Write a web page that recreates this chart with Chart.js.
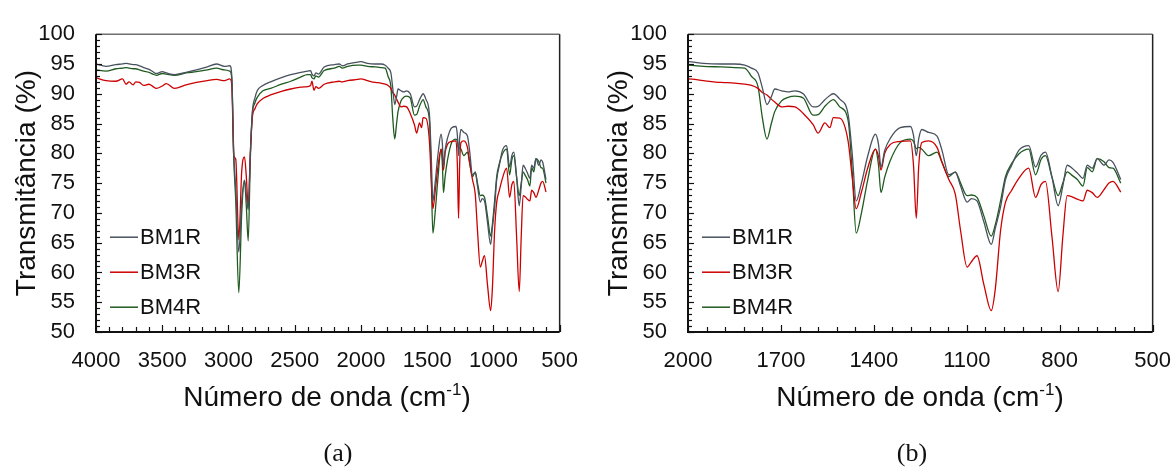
<!DOCTYPE html>
<html>
<head>
<meta charset="utf-8">
<script src="https://cdn.jsdelivr.net/npm/chart.js@4.4.1/dist/chart.umd.min.js"></script>
<style>
  html, body { margin:0; padding:0; background:#fff; }
  body { width:1173px; height:468px; position:relative; overflow:hidden; font-family:"Liberation Sans", Arial, sans-serif; }
  .wrap { position:absolute; top:0; height:468px; }
  .xtitle { position:absolute; top:377px; font-size:28px; color:#111; white-space:nowrap; transform:translateX(-50%); line-height:40px; }
  .xtitle sup { font-size:17px; vertical-align:0; position:relative; top:-11px; }
  .cap { position:absolute; top:438px; font-family:"Liberation Serif", "Times New Roman", serif; font-size:26px; color:#111; transform:translateX(-50%); line-height:30px; }
</style>
</head>
<body>
<div class="wrap" style="left:0;width:594px"><canvas id="ca"></canvas></div>
<div class="wrap" style="left:592px;width:595px"><canvas id="cb"></canvas></div>
<div class="xtitle" style="left:327px">Número de onda (cm<sup>-1</sup>)</div>
<div class="xtitle" style="left:920px">Número de onda (cm<sup>-1</sup>)</div>
<div class="cap" style="left:338px">(a)</div>
<div class="cap" style="left:912px">(b)</div>
<script>
// ---- data ----
const seriesNames = ["BM1R", "BM3R", "BM4R"];
const wavenumbers = [
 4000,3924,3850,3800,3773,3750,3720,3700,3672,3640,3600,3570,3545,3500,3469,3407,3320,3242,3160,3091,3030,2990,
 2975,2960,2945,2922,2900,2879,2865,2851,2835,2820,2800,2783,2740,2682,2600,2530,2455,2404,2380,2370,2355,2340,2320,
 2278,2200,2164,2140,2100,2025,2000,
 1950,1892,1850,1817,1795,1774,1760,1745,1731,1720,1698,1677,1655,1628,1596,1580,1558,1542,1531,1510,1483,1470,1457,
 1440,1420,1395,1385,1377,1365,1347,1315,1282,1272,1263,1255,1245,1223,1196,1180,1158,1137,1120,1099,1085,1067,1045,
 1021,1008,991,975,955,932,900,878,860,846,825,805,790,776,760,743,725,711,695,679,657,641,628,603
];
const bm1r = [
 95.0,94.6,94.9,95.0,95.1,95.0,94.9,94.9,94.7,94.4,94.1,93.7,93.4,93.7,93.5,93.2,93.6,94.0,94.5,95.0,94.6,94.7,
 93.0,80.0,74.0,63.4,72.0,75.5,73.0,70.5,80.0,86.9,89.3,90.5,91.4,92.0,92.7,93.2,93.6,93.8,93.9,93.3,93.0,93.5,93.3,
 94.5,94.9,95.0,94.7,95.0,95.3,95.4,
 95.1,95.0,95.0,94.8,94.3,93.5,91.0,88.2,89.5,90.8,90.5,90.3,90.5,90.0,87.8,87.9,89.0,89.7,90.0,89.1,86.5,80.0,72.0,
 75.0,79.5,83.2,81.5,77.7,80.5,82.5,84.3,84.5,83.0,79.6,82.5,84.0,83.5,82.9,80.5,76.4,76.8,74.5,71.8,72.4,72.0,68.5,
 64.7,67.4,71.0,75.6,78.0,80.5,81.3,77.7,79.7,80.2,76.0,71.2,74.5,78.0,77.5,76.7,75.8,78.0,77.5,79.1,78.0,78.9,78.5,75.6
];
const bm3r = [
 92.7,92.2,92.1,92.5,91.6,92.0,91.5,92.0,91.9,91.4,91.6,91.2,90.9,91.3,91.7,90.9,91.5,91.9,92.2,92.4,92.2,92.5,
 91.5,79.6,79.0,65.5,77.0,79.4,76.0,71.0,80.0,86.0,87.5,88.3,89.2,89.8,90.4,90.8,91.1,91.2,91.4,92.1,90.6,91.2,90.9,
 91.6,92.0,92.1,92.0,92.2,92.4,92.5,
 92.2,91.9,91.8,91.6,91.4,90.9,90.2,89.8,89.1,88.6,87.8,87.9,87.8,86.7,84.8,83.4,85.1,84.3,86.0,85.9,82.0,76.0,70.7,
 73.5,77.5,80.7,79.5,77.2,80.0,81.5,82.0,82.1,78.0,69.1,78.0,81.8,82.1,81.0,78.5,75.6,73.1,67.0,60.9,61.8,62.8,58.0,
 53.6,57.2,67.0,71.8,73.8,75.8,77.5,72.6,74.8,75.3,66.0,56.8,66.0,72.9,72.7,72.3,72.0,73.8,73.4,72.6,73.9,75.0,75.3,73.5
];
const bm4r = [
 94.0,93.8,94.2,94.3,94.4,94.3,94.2,94.2,94.0,93.8,93.6,93.3,93.1,93.4,93.3,93.1,93.5,93.7,94.0,94.3,94.0,93.8,
 92.5,79.0,72.0,56.6,70.0,75.3,71.0,65.3,79.0,86.5,88.5,89.4,90.5,90.9,91.6,92.1,92.8,93.2,93.2,92.7,92.5,93.0,92.8,
 93.9,94.3,94.6,94.3,94.6,94.8,94.8,
 94.6,94.5,94.4,94.3,92.9,91.2,86.0,82.4,85.0,87.0,88.8,89.4,89.6,89.3,86.4,86.5,87.9,88.7,89.0,87.8,85.5,77.0,66.6,
 70.0,75.5,80.7,78.0,73.4,76.0,78.8,81.8,82.4,82.0,80.8,81.0,80.7,79.6,80.2,78.5,76.1,76.9,75.0,72.9,73.0,72.6,69.5,
 66.1,68.0,72.0,76.1,78.3,79.9,80.7,76.4,79.0,79.6,76.0,72.9,75.0,76.9,76.3,75.6,74.5,77.6,76.9,79.1,78.6,77.6,77.5,75.0
];
const yTicks = [50,55,60,65,70,75,80,85,90,95,100];
const xTicksA = [4000,3500,3000,2500,2000,1500,1000,500];
const xTicksB = [2000,1700,1400,1100,800,500];

// ---- styling ----
const colors = ["#48525e", "#cc0000", "#1f5a1f"];
const FONT = "'Liberation Sans', Arial, sans-serif";

function makeDatasets() {
  const vals = [bm1r, bm3r, bm4r];
  return seriesNames.map((n, i) => ({
    label: n,
    data: wavenumbers.map((w, k) => ({x: w, y: vals[i][k]})),
    borderColor: colors[i],
    borderWidth: 1.3,
    pointRadius: 0,
    fill: false,
    cubicInterpolationMode: 'monotone'
  }));
}

const decor = {
  id: 'decor',
  afterDraw(chart, args, o) {
    const ctx = chart.ctx, a = chart.chartArea;
    const xs = chart.scales.x, ys = chart.scales.y;
    ctx.save();
    ctx.strokeStyle = '#6f6f6f'; ctx.lineWidth = 1.5;
    ctx.beginPath(); ctx.moveTo(a.left, a.top); ctx.lineTo(a.right, a.top); ctx.stroke();
    ctx.strokeStyle = '#222';
    ctx.beginPath(); ctx.moveTo(a.right, a.top); ctx.lineTo(a.right, a.bottom); ctx.stroke();
    ctx.strokeStyle = '#111'; ctx.lineWidth = 2;
    ctx.beginPath(); ctx.moveTo(a.left, a.top); ctx.lineTo(a.left, a.bottom); ctx.lineTo(a.right, a.bottom); ctx.stroke();
    ctx.lineWidth = 1.2; ctx.strokeStyle = '#111';
    for (let v = xs.min; v <= xs.max + 1e-6; v += o.xMinor) {
      const px = Math.round(xs.getPixelForValue(v)) + 0.5;
      const r = (v - xs.min) / o.xMajor;
      const major = Math.abs(r - Math.round(r)) < 1e-6;
      const len = major ? 7 : 5;
      ctx.beginPath(); ctx.moveTo(px, a.bottom); ctx.lineTo(px, a.bottom - len); ctx.stroke();
    }
    for (let v = ys.min; v <= ys.max + 1e-6; v += 1) {
      const py = Math.round(ys.getPixelForValue(v)) + 0.5;
      const len = (v % 5 === 0) ? 6 : 4;
      ctx.beginPath(); ctx.moveTo(a.left, py); ctx.lineTo(a.left + len, py); ctx.stroke();
    }
    ctx.font = "22px " + FONT; ctx.textBaseline = 'middle'; ctx.textAlign = 'left';
    const rows = [203, 238, 273];
    chart.data.datasets.forEach((ds, i) => {
      const y = a.top + rows[i];
      ctx.strokeStyle = ds.borderColor; ctx.lineWidth = 1.5;
      ctx.beginPath(); ctx.moveTo(a.left + 14, y); ctx.lineTo(a.left + 42, y); ctx.stroke();
      ctx.fillStyle = '#111';
      ctx.fillText(ds.label, a.left + 44, y + 1);
    });
    ctx.restore();
  }
};

function makeChart(id, xMin, xMax, xTickVals, padRight, xMinor, xMajor) {
  return new Chart(document.getElementById(id), {
    type: 'line',
    data: { datasets: makeDatasets() },
    options: {
      responsive: true,
      maintainAspectRatio: false,
      animation: false,
      events: [],
      layout: { padding: { top: 25, right: padRight, bottom: 0, left: 0 } },
      plugins: { legend: { display: false }, tooltip: { enabled: false }, decor: { xMinor, xMajor } },
      scales: {
        x: {
          type: 'linear', reverse: true, min: xMin, max: xMax,
          afterBuildTicks: s => { s.ticks = xTickVals.filter(v => v >= xMin && v <= xMax).map(v => ({value: v})); },
          afterFit: s => { s.height = 136; },
          grid: { display: false, drawTicks: false },
          border: { display: false },
          ticks: { color: '#111', font: { family: FONT, size: 22 }, padding: 16, maxRotation: 0, autoSkip: false,
                   callback: v => String(v) }
        },
        y: {
          type: 'linear', min: 50, max: 100,
          afterBuildTicks: s => { s.ticks = yTicks.map(v => ({value: v})); },
          afterFit: s => { s.width = 96; },
          grid: { display: false, drawTicks: false },
          border: { display: false },
          ticks: { color: '#111', font: { family: FONT, size: 22 }, padding: 21, callback: v => String(v) },
          title: { display: true, text: 'Transmitância (%)', color: '#111', font: { family: FONT, size: 28 }, padding: { top: 10, bottom: 0 } }
        }
      }
    },
    plugins: [decor]
  });
}

makeChart('ca', 500, 4000, xTicksA, 0, 100, 500);
makeChart('cb', 500, 2000, xTicksB, 0, 60, 300);
</script>
</body>
</html>
